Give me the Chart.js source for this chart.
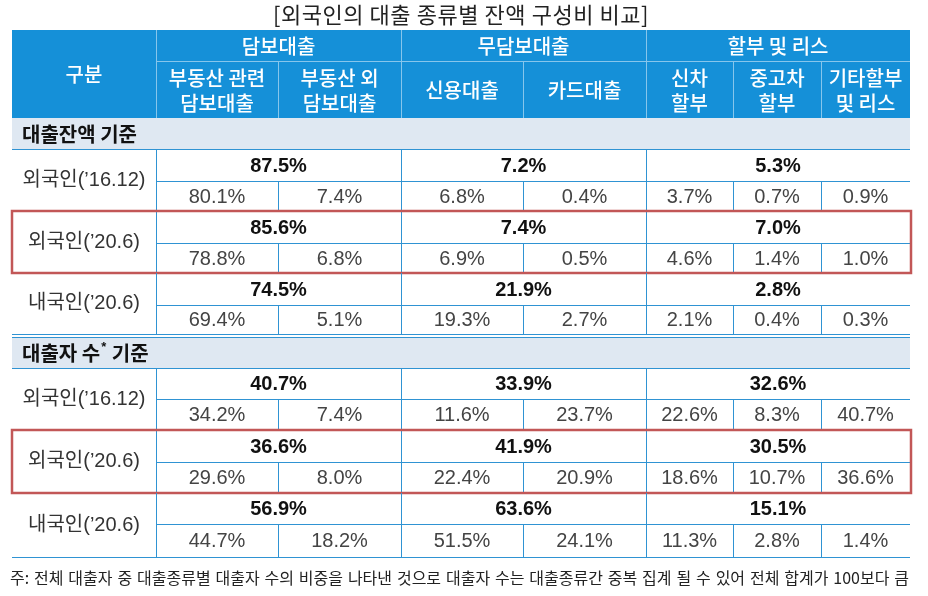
<!DOCTYPE html>
<html>
<head>
<meta charset="utf-8">
<script src="https://cdn.jsdelivr.net/npm/chart.js@4/dist/chart.umd.min.js"></script>
<style>
  html, body { margin: 0; padding: 0; background: #fff; }
  canvas { display: block; }
</style>
</head>
<body>
<canvas id="tbl" width="928" height="596"></canvas>
<script>
// 표 데이터
const title = '[외국인의 대출 종류별 잔액 구성비 비교]';
const footnote = '주: 전체 대출자 중 대출종류별 대출자 수의 비중을 나타낸 것으로 대출자 수는 대출종류간 중복 집계 될 수 있어 전체 합계가 100보다 큼';
const cornerLabel = '구분';
const groupLabels = ['담보대출', '무담보대출', '할부 및 리스'];
const subLabels = [
    ['부동산 관련', '담보대출'], ['부동산 외', '담보대출'], ['신용대출'], ['카드대출'],
    ['신차', '할부'], ['중고차', '할부'], ['기타할부', '및 리스']
];
const sectionLabels = ['대출잔액 기준', '대출자 수* 기준'];
const rowLabels = ['외국인(’16.12)', '외국인(’20.6)', '내국인(’20.6)'];
const highlightRow = 1;

// 대출잔액 기준
const balanceTotals = [
    [87.5, 7.2, 5.3],
    [85.6, 7.4, 7.0],
    [74.5, 21.9, 2.8]
];
const balanceDetail = [
    [80.1, 7.4, 6.8, 0.4, 3.7, 0.7, 0.9],
    [78.8, 6.8, 6.9, 0.5, 4.6, 1.4, 1.0],
    [69.4, 5.1, 19.3, 2.7, 2.1, 0.4, 0.3]
];

// 대출자 수 기준
const borrowerTotals = [
    [40.7, 33.9, 32.6],
    [36.6, 41.9, 30.5],
    [56.9, 63.6, 15.1]
];
const borrowerDetail = [
    [34.2, 7.4, 11.6, 23.7, 22.6, 8.3, 40.7],
    [29.6, 8.0, 22.4, 20.9, 18.6, 10.7, 36.6],
    [44.7, 18.2, 51.5, 24.1, 11.3, 2.8, 1.4]
];

// 레이아웃 (스케일 단위)
const colEdges = [12, 156, 278, 401, 523, 646, 733, 821, 910];
const groupSpan = [[1, 3], [3, 5], [5, 8]];   // colEdges 인덱스
const headerTop = 30, headerMid = 61, headerBottom = 118;
const sectionRows = [
    { top: 118, bottom: 149, rows: [[149, 181, 211], [211, 243, 273], [273, 305, 334]] },
    { top: 337, bottom: 368, rows: [[368, 399, 430], [430, 462, 493], [493, 524, 557]] }
];

const KR = '"Noto Sans CJK KR", sans-serif';
const NUM = '"Liberation Sans", "Noto Sans CJK KR", sans-serif';
const LINE = '#2f93d3';
const HEAD_LINE = '#86c6ec';

const fmt = v => v.toFixed(1) + '%';

const tablePlugin = {
    id: 'tablePlugin',
    afterDraw(chart) {
        const ctx = chart.ctx;
        const sx = v => chart.scales.x.getPixelForValue(v);
        const sy = v => chart.scales.y.getPixelForValue(v);

        const hLine = (x1, x2, y, color, w) => {
            ctx.strokeStyle = color;
            ctx.lineWidth = w || 1;
            ctx.beginPath();
            ctx.moveTo(sx(x1), Math.round(sy(y)) + 0.5);
            ctx.lineTo(sx(x2), Math.round(sy(y)) + 0.5);
            ctx.stroke();
        };
        const vLine = (x, y1, y2, color, w) => {
            ctx.strokeStyle = color;
            ctx.lineWidth = w || 1;
            ctx.beginPath();
            ctx.moveTo(Math.round(sx(x)) + 0.5, sy(y1));
            ctx.lineTo(Math.round(sx(x)) + 0.5, sy(y2));
            ctx.stroke();
        };
        const text = (str, x, y, font, color, align) => {
            ctx.font = font;
            ctx.fillStyle = color;
            ctx.textAlign = align || 'center';
            ctx.textBaseline = 'middle';
            ctx.fillText(str, sx(x), sy(y));
        };
        // 단어 간격을 늘려 주어진 폭에 맞춤
        const fitText = (str, x1, x2, y, font, color, letter) => {
            ctx.save();
            ctx.font = font;
            ctx.letterSpacing = (letter || 0) + 'px';
            const spaces = str.split(' ').length - 1;
            ctx.wordSpacing = '0px';
            const natural = ctx.measureText(str).width;
            const extra = Math.max(0, (sx(x2) - sx(x1) - natural) / spaces);
            ctx.wordSpacing = extra + 'px';
            ctx.fillStyle = color;
            ctx.textBaseline = 'middle';
            ctx.textAlign = 'left';
            ctx.fillText(str, sx(x1), sy(y));
            ctx.restore();
        };

        ctx.save();

        // 제목
        fitText(title, 273, 649, 15, '22px ' + KR, '#222', 0.5);

        // 헤더
        const left = colEdges[0], right = colEdges[colEdges.length - 1];
        ctx.fillStyle = '#1590d8';
        ctx.fillRect(sx(left), sy(headerTop), sx(right) - sx(left), sy(headerBottom) - sy(headerTop));
        hLine(colEdges[1], right, headerMid, HEAD_LINE);
        groupSpan.forEach(([a]) => vLine(colEdges[a], headerTop, headerBottom, HEAD_LINE));
        [2, 4, 6, 7].forEach(i => vLine(colEdges[i], headerMid, headerBottom, HEAD_LINE));

        const HF = '500 20px ' + KR;
        text(cornerLabel, (colEdges[0] + colEdges[1]) / 2, (headerTop + headerBottom) / 2, HF, '#fff');
        groupSpan.forEach(([a, b], i) => {
            text(groupLabels[i], (colEdges[a] + colEdges[b]) / 2, (headerTop + headerMid) / 2 + 1, HF, '#fff');
        });
        subLabels.forEach((lines, i) => {
            const cx = (colEdges[i + 1] + colEdges[i + 2]) / 2;
            const cy = (headerMid + headerBottom) / 2 + 1;
            if (lines.length === 1) {
                text(lines[0], cx, cy, HF, '#fff');
            } else {
                text(lines[0], cx, cy - 12, HF, '#fff');
                text(lines[1], cx, cy + 13, HF, '#fff');
            }
        });

        // 본문
        const totalsBySection = [balanceTotals, borrowerTotals];
        const detailBySection = [balanceDetail, borrowerDetail];

        sectionRows.forEach((sec, s) => {
            ctx.fillStyle = '#dfe8f2';
            ctx.fillRect(sx(left), sy(sec.top), sx(right) - sx(left), sy(sec.bottom) - sy(sec.top));
            hLine(left, right, sec.bottom, LINE);
            if (s > 0) {
                hLine(left, right, sec.top - 3, LINE);
                hLine(left, right, sec.top, LINE);
            }

            // 구분 제목
            const label = sectionLabels[s];
            const ly = (sec.top + sec.bottom) / 2 + 1;
            const bold = 'bold 20px ' + KR;
            if (label.includes('*')) {
                const [pre, post] = label.split('*');
                ctx.font = bold;
                const w1 = ctx.measureText(pre).width;
                text(pre, 22, ly, bold, '#111', 'left');
                text('*', 22 + w1 + 1, ly - 6, 'bold 13px ' + NUM, '#111', 'left');
                ctx.font = 'bold 13px ' + NUM;
                const w2 = ctx.measureText('*').width;
                text(post, 22 + w1 + w2 + 2, ly, bold, '#111', 'left');
            } else {
                text(label, 22, ly, bold, '#111', 'left');
            }

            sec.rows.forEach(([top, mid, bottom], r) => {
                hLine(colEdges[1], right, mid, LINE);
                hLine(left, right, bottom, LINE);
                groupSpan.forEach(([a]) => vLine(colEdges[a], top, bottom, LINE));
                [2, 4, 6, 7].forEach(i => vLine(colEdges[i], mid, bottom, LINE));

                text(rowLabels[r], (colEdges[0] + colEdges[1]) / 2, (top + bottom) / 2, '20px ' + NUM, '#333');

                totalsBySection[s][r].forEach((v, g) => {
                    const [a, b] = groupSpan[g];
                    text(fmt(v), (colEdges[a] + colEdges[b]) / 2, (top + mid) / 2 + 1, 'bold 20px ' + NUM, '#111');
                });
                detailBySection[s][r].forEach((v, c) => {
                    text(fmt(v), (colEdges[c + 1] + colEdges[c + 2]) / 2, (mid + bottom) / 2 + 1, '20px ' + NUM, '#444');
                });

                if (r === highlightRow) {
                    ctx.strokeStyle = '#c25757';
                    ctx.lineWidth = 2.5;
                    ctx.strokeRect(sx(left), sy(top), sx(right + 1) - sx(left), sy(bottom) - sy(top));
                }
            });
        });

        // 주석
        fitText(footnote, 10, 909, 578, '16px ' + KR, '#222', 0);

        ctx.restore();
    }
};

new Chart(document.getElementById('tbl'), {
    type: 'scatter',
    data: { datasets: [] },
    options: {
        responsive: false,
        animation: false,
        events: [],
        layout: { padding: 0 },
        plugins: {
            legend: { display: false },
            tooltip: { enabled: false }
        },
        scales: {
            x: { type: 'linear', display: false, min: 0, max: 928 },
            y: { type: 'linear', display: false, min: 0, max: 596, reverse: true }
        }
    },
    plugins: [tablePlugin]
});
</script>
</body>
</html>
